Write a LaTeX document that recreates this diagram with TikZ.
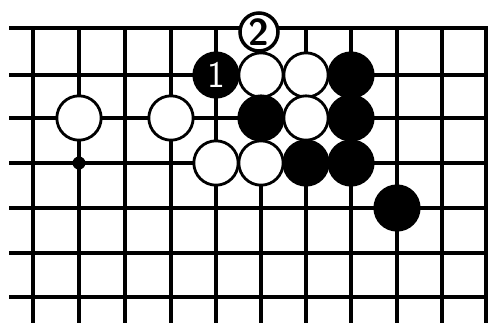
\documentclass[tikz,border=0pt]{standalone}
\usepackage{tikz}
\usetikzlibrary{positioning}

\begin{document}
\begin{tikzpicture}[
    x=0.03cm, y=-0.03cm,
    gridline/.style={line width=2.6pt, black},
    edgeline/.style={line width=4pt, black},
    white stone/.style={
      circle, draw=black, line width=2.4pt, fill=white,
      minimum size=1.33cm, inner sep=0pt,
    },
    black stone/.style={
      circle, draw=black, line width=2.4pt, fill=black,
      minimum size=1.33cm, inner sep=0pt, text=white,
    },
    movelbl/.style={font=\sffamily\bfseries\fontsize{32}{32}\selectfont},
  ]

  % =================== CANVAS ===================
  \useasboundingbox (0,0) rectangle (493,323);
  \fill[white] (0,0) rectangle (493,323);

  % =================== GRID ===================
  % horizontal lines (rows 1..6)
  \foreach \y in {75,118,163,208,253,297}
    \draw[gridline] (9,\y) -- (486,\y);
  % vertical lines
  \foreach \x in {33,79,125,171,216,261,306,351,397,442}
    \draw[gridline] (\x,28) -- (\x,323);
  % board edges: top and right
  \draw[edgeline] (9,28) -- (486,28);
  \draw[edgeline] (486,26) -- (486,323);

  % hoshi point
  \fill (79,163) circle (6.5);

  % =================== STONES ===================
  % row 1
  \node[black stone, font=\sffamily\fontsize{32}{32}\selectfont] (B1) at (216,75) {1};
  \node[white stone] (W1) at (261,75) {};
  \node[white stone] (W2) at (306,75) {};
  \node[black stone] (B2) at (351,75) {};
  % row 2
  \node[white stone] (W3) at (79,118) {};
  \node[white stone] (W4) at (171,118) {};
  \node[black stone] (B3) at (261,118) {};
  \node[white stone] (W5) at (306,118) {};
  \node[black stone] (B4) at (351,118) {};
  % row 3
  \node[white stone] (W6) at (216,163) {};
  \node[white stone] (W7) at (261,163) {};
  \node[black stone] (B5) at (306,163) {};
  \node[black stone] (B6) at (351,163) {};
  % row 4
  \node[black stone] (B7) at (397,208) {};

  % move 2 on the edge
  \node[white stone, minimum size=1.14cm, line width=3pt, movelbl] (W2m) at (259,32) {2};

\end{tikzpicture}
\end{document}
